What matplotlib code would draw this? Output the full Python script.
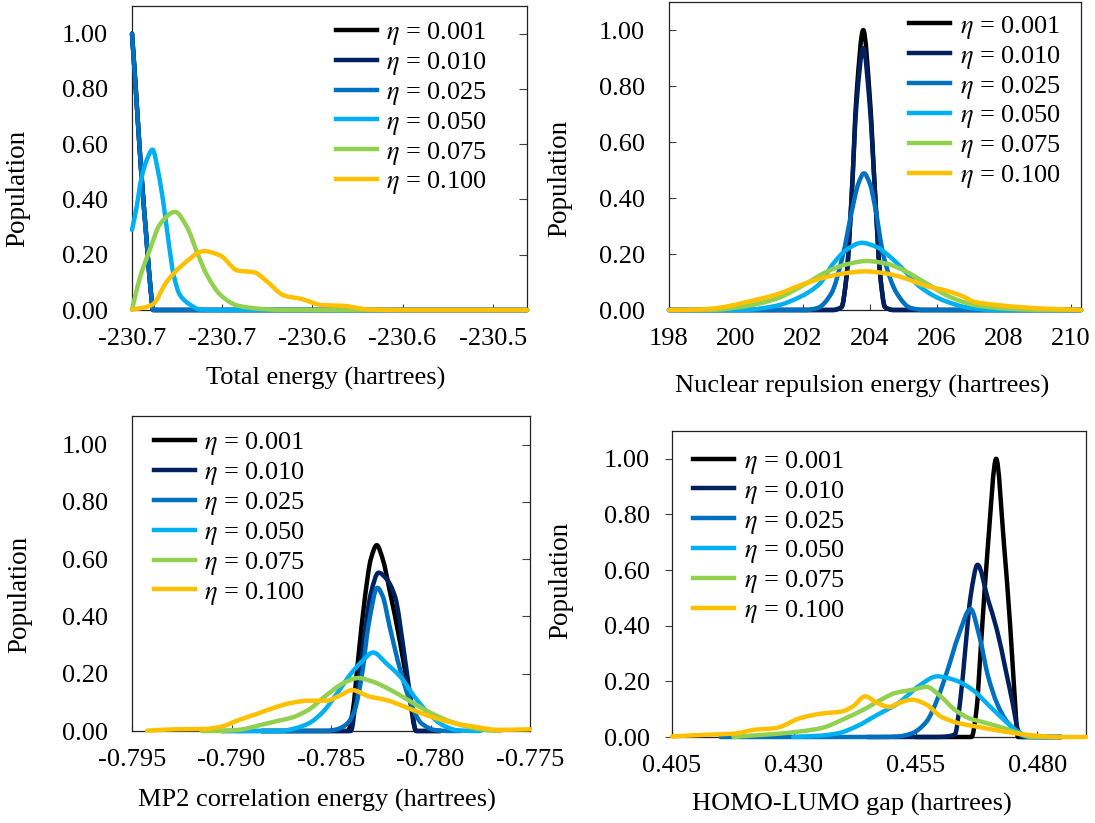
import numpy as np
import matplotlib
matplotlib.use("Agg")
import matplotlib.pyplot as plt
from matplotlib.path import Path
from matplotlib.patches import PathPatch
from matplotlib.lines import Line2D
from matplotlib.ticker import FixedLocator, FormatStrFormatter

plt.rcParams['font.family'] = ['Liberation Serif', 'DejaVu Serif']
plt.rcParams['mathtext.fontset'] = 'stix'

# ---------------- data ----------------
eta_labels = ['0.001', '0.010', '0.025', '0.050', '0.075', '0.100']
colors = ['#000000', '#002060', '#0070C0', '#00B0F0', '#92D050', '#FFC000']

# Panel 1: total energy (hartrees)
te_x_001 = [-230.7400, -230.7380, -230.7350, -230.7320, -230.72975, -230.72825, -230.7200, -230.5210]
te_y_001 = [1.00, 0.81, 0.51, 0.26, 0.08, 0.00, 0.00, 0.00]
te_x_010 = [-230.7400, -230.7380, -230.7350, -230.7320, -230.72975, -230.72825, -230.7200, -230.5210]
te_y_010 = [1.00, 0.81, 0.51, 0.26, 0.08, 0.00, 0.00, 0.00]
te_x_025 = [-230.7400, -230.7380, -230.7350, -230.7320, -230.72975, -230.72825, -230.7200, -230.5210]
te_y_025 = [1.00, 0.81, 0.51, 0.26, 0.08, 0.00, 0.00, 0.00]
te_x_050 = [-230.7400, -230.7375, -230.7350, -230.7320, -230.7286, -230.7255, -230.72265, -230.7200,
            -230.7170, -230.7135, -230.7075, -230.7025, -230.6950, -230.5210]
te_y_050 = [0.29, 0.37, 0.47, 0.54, 0.58, 0.50, 0.39, 0.26, 0.13, 0.055, 0.018, 0.002, 0.0, 0.0]
te_x_075 = [-230.7400, -230.7357, -230.7300, -230.7245, -230.7161, -230.7095, -230.7040, -230.6985,
            -230.6910, -230.6815, -230.6685, -230.6550, -230.5210]
te_y_075 = [0.0, 0.115, 0.22, 0.31, 0.355, 0.30, 0.21, 0.127, 0.055, 0.016, 0.004, 0.0, 0.0]
te_x_100 = [-230.7400, -230.7340, -230.7285, -230.7210, -230.7125, -230.7000, -230.6910, -230.6815,
            -230.6720, -230.6660, -230.6555, -230.6460, -230.6350, -230.6225, -230.6090, -230.5900,
            -230.5210]
te_y_100 = [0.002, 0.008, 0.02, 0.10, 0.16, 0.213, 0.197, 0.143, 0.136, 0.108, 0.052, 0.04, 0.018,
            0.015, 0.002, 0.0, 0.0]

# Panel 2: nuclear repulsion energy (hartrees)
nr_x_001 = [198.0, 202.9, 203.15, 203.3, 203.45, 203.6, 203.8, 204.0, 204.15, 204.3, 204.45, 204.7, 210.3]
nr_y_001 = [0.0, 0.0, 0.01, 0.12, 0.40, 0.77, 1.00, 0.75, 0.42, 0.13, 0.01, 0.0, 0.0]
nr_x_010 = [198.0, 202.9, 203.15, 203.3, 203.45, 203.6, 203.8, 204.0, 204.15, 204.3, 204.45, 204.7, 210.3]
nr_y_010 = [0.0, 0.0, 0.01, 0.12, 0.40, 0.74, 0.935, 0.72, 0.42, 0.13, 0.01, 0.0, 0.0]
nr_x_025 = [198.0, 202.1, 202.45, 202.85, 203.18, 203.47, 203.65, 203.82, 204.0, 204.15, 204.41,
            204.8, 205.2, 205.6, 210.3]
nr_y_025 = [0.0, 0.0, 0.008, 0.06, 0.19, 0.36, 0.45, 0.488, 0.45, 0.37, 0.19, 0.06, 0.008, 0.0, 0.0]
nr_x_050 = [198.0, 200.2, 201.2, 201.9, 202.5, 202.9, 203.3, 203.75, 204.2, 204.6, 204.95, 205.5,
            206.2, 207.0, 207.7, 210.3]
nr_y_050 = [0.0, 0.0, 0.015, 0.046, 0.094, 0.165, 0.215, 0.24, 0.225, 0.19, 0.15, 0.082, 0.034,
            0.007, 0.0, 0.0]
nr_x_075 = [198.0, 199.2, 200.2, 201.2, 202.0, 202.7, 203.3, 203.9, 204.5, 204.95, 205.7, 206.4,
            207.2, 208.2, 209.2, 210.3]
nr_y_075 = [0.0, 0.0, 0.012, 0.04, 0.088, 0.136, 0.163, 0.175, 0.165, 0.145, 0.094, 0.046, 0.016,
            0.004, 0.0, 0.0]
nr_x_100 = [198.0, 198.6, 199.2, 199.7, 200.3, 201.2, 202.0, 202.7, 203.3, 203.85, 204.4, 204.95,
            205.7, 206.25, 206.75, 207.15, 207.7, 208.5, 209.2, 210.3]
nr_y_100 = [0.0, 0.001, 0.004, 0.012, 0.028, 0.055, 0.092, 0.118, 0.132, 0.138, 0.132, 0.117,
            0.085, 0.07, 0.05, 0.028, 0.019, 0.01, 0.005, 0.0]

# Panel 3: MP2 correlation energy (hartrees)
mp_x_001 = [-0.7885, -0.78415, -0.7839, -0.78364, -0.78329, -0.7830, -0.7827, -0.7824, -0.78205,
            -0.78152, -0.78108, -0.78072, -0.7795]
mp_y_001 = [0.0, 0.0, 0.073, 0.248, 0.469, 0.60, 0.649, 0.60, 0.49, 0.306, 0.13, 0.0, 0.0]
mp_x_010 = [-0.7885, -0.7840, -0.78373, -0.78337, -0.7830, -0.78261, -0.7822, -0.78178, -0.78134,
            -0.78099, -0.78072, -0.7795]
mp_y_010 = [0.0, 0.0, 0.12, 0.306, 0.48, 0.553, 0.53, 0.469, 0.28, 0.108, 0.0, 0.0]
mp_x_025 = [-0.7905, -0.78523, -0.7847, -0.78417, -0.78381, -0.78346, -0.7831, -0.78267, -0.7824,
            -0.78205, -0.78152, -0.78099, -0.78046, -0.77975, -0.77905, -0.7785]
mp_y_025 = [0.0, 0.0, 0.006, 0.027, 0.073, 0.19, 0.376, 0.50, 0.47, 0.364, 0.213, 0.097, 0.027,
            0.003, 0.0, 0.0]
mp_x_050 = [-0.7905, -0.78753, -0.78682, -0.78611, -0.7854, -0.7847, -0.78399, -0.78346, -0.78288,
            -0.78222, -0.78152, -0.78081, -0.7801, -0.7794, -0.77869, -0.7778, -0.7775]
mp_y_050 = [0.0, 0.0, 0.009, 0.027, 0.067, 0.131, 0.201, 0.242, 0.274, 0.236, 0.19, 0.12, 0.062,
            0.021, 0.003, 0.0, 0.0]
mp_x_075 = [-0.7915, -0.79071, -0.78965, -0.78859, -0.7877, -0.7870, -0.78611, -0.78523, -0.78435,
            -0.78364, -0.78293, -0.78205, -0.78117, -0.78028, -0.7794, -0.77852, -0.77746, -0.77657,
            -0.7765]
mp_y_075 = [0.0, 0.0, 0.004, 0.02, 0.035, 0.046, 0.075, 0.125, 0.168, 0.185, 0.173, 0.145, 0.11,
            0.074, 0.044, 0.022, 0.006, 0.0, 0.0]
mp_x_100 = [-0.79424, -0.79283, -0.79141, -0.79053, -0.78965, -0.78859, -0.7877, -0.7870, -0.78611,
            -0.78523, -0.78452, -0.78394, -0.7831, -0.78222, -0.78134, -0.78046, -0.77957, -0.77869,
            -0.7778, -0.77657, -0.7750]
mp_y_100 = [0.001, 0.006, 0.007, 0.015, 0.038, 0.063, 0.085, 0.098, 0.106, 0.106, 0.125, 0.143,
            0.121, 0.108, 0.086, 0.062, 0.041, 0.026, 0.015, 0.004, 0.006]

# Panel 4: HOMO-LUMO gap (hartrees)
hl_x_001 = [0.455, 0.4665, 0.46752, 0.46846, 0.4699, 0.47156, 0.47314, 0.47444, 0.47531, 0.47602, 0.485]
hl_y_001 = [0.0, 0.0, 0.098, 0.338, 0.697, 1.00, 0.697, 0.398, 0.158, 0.0, 0.0]
hl_x_010 = [0.445, 0.4595, 0.46305, 0.46413, 0.46521, 0.4663, 0.46774, 0.4699, 0.4717, 0.4735,
            0.47494, 0.47602, 0.47675, 0.485]
hl_y_010 = [0.0, 0.0, 0.008, 0.122, 0.314, 0.505, 0.619, 0.493, 0.386, 0.242, 0.122, 0.026, 0.0, 0.0]
hl_x_025 = [0.415, 0.44791, 0.4515, 0.45439, 0.45728, 0.45944, 0.4616, 0.46377, 0.4663, 0.46811,
            0.4699, 0.4717, 0.4735, 0.47531, 0.47747, 0.48035, 0.485]
hl_y_025 = [0.0, 0.0, 0.002, 0.014, 0.056, 0.134, 0.242, 0.362, 0.46, 0.362, 0.218, 0.122, 0.062,
            0.026, 0.002, 0.0, 0.0]
hl_x_050 = [0.42988, 0.43564, 0.43925, 0.44286, 0.44718, 0.4515, 0.4558, 0.4594, 0.4630, 0.46666,
            0.47026, 0.47315, 0.47602, 0.4782, 0.481, 0.485]
hl_y_050 = [0.0, 0.005, 0.014, 0.038, 0.08, 0.122, 0.185, 0.218, 0.205, 0.17, 0.11, 0.062, 0.02,
            0.002, 0.0, 0.0]
hl_x_075 = [0.41762, 0.42122, 0.42627, 0.43132, 0.43564, 0.44069, 0.4443, 0.44791, 0.4508, 0.45439,
            0.45728, 0.46016, 0.46305, 0.46594, 0.46955, 0.47315, 0.47602, 0.47891, 0.485]
hl_y_075 = [0.0, 0.005, 0.011, 0.02, 0.032, 0.068, 0.098, 0.134, 0.158, 0.17, 0.18, 0.146, 0.098,
            0.068, 0.05, 0.032, 0.014, 0.0, 0.0]
hl_x_100 = [0.405, 0.41185, 0.41762, 0.42195, 0.42627, 0.43132, 0.43564, 0.43997, 0.44214, 0.44466,
            0.44718, 0.4497, 0.4515, 0.45439, 0.45728, 0.46016, 0.46377, 0.46738, 0.4717, 0.47531,
            0.47964, 0.484, 0.490]
hl_y_100 = [0.002, 0.008, 0.012, 0.026, 0.032, 0.068, 0.084, 0.092, 0.11, 0.146, 0.122, 0.108,
            0.122, 0.134, 0.116, 0.074, 0.05, 0.038, 0.024, 0.014, 0.005, 0.0, 0.0]

# axis ticks
te_ticks = [-230.74, -230.69, -230.64, -230.59, -230.54]
nr_ticks = [198, 200, 202, 204, 206, 208, 210]
mp_ticks = [-0.795, -0.790, -0.785, -0.780, -0.775]
hl_ticks = [0.405, 0.430, 0.455, 0.480]
y_ticks = [0.0, 0.2, 0.4, 0.6, 0.8, 1.0]

# ---------------- helpers ----------------
def smooth_path(x, y):
    """Smoothed line through the points (cubic Bezier segments, like a spreadsheet 'smoothed line')."""
    x = np.asarray(x, float)
    y = np.asarray(y, float)
    n = len(x)
    h = np.diff(x)
    d = np.diff(y) / h
    m = np.zeros(n)
    m[0] = d[0]
    m[-1] = d[-1]
    for k in range(1, n - 1):
        if d[k - 1] * d[k] <= 0:
            m[k] = 0.0
        else:
            w1 = 2 * h[k] + h[k - 1]
            w2 = h[k] + 2 * h[k - 1]
            m[k] = (w1 + w2) / (w1 / d[k - 1] + w2 / d[k])
    verts = [(x[0], y[0])]
    codes = [Path.MOVETO]
    for i in range(n - 1):
        c1 = (x[i] + h[i] / 3, max(0.0, y[i] + m[i] * h[i] / 3))
        c2 = (x[i + 1] - h[i] / 3, max(0.0, y[i + 1] - m[i + 1] * h[i] / 3))
        verts += [c1, c2, (x[i + 1], y[i + 1])]
        codes += [Path.CURVE4] * 3
    return Path(verts, codes)


LW = 3.2
FS = 19
W, H = 1095, 823
fig = plt.figure(figsize=(W / 100, H / 100), dpi=100)


def px_axes(left, right, top, bottom):
    return fig.add_axes([left / W, 1 - bottom / H, (right - left) / W, (bottom - top) / H])


panels = [
    dict(box=(132, 527, 6, 310), xlim=(-230.74, -230.521), ticks=te_ticks, fmt='%.1f',
         series=[(te_x_001, te_y_001), (te_x_010, te_y_010), (te_x_025, te_y_025),
                 (te_x_050, te_y_050), (te_x_075, te_y_075), (te_x_100, te_y_100)],
         xlabel='Total energy (hartrees)', xl=(0.49, -0.224), yl=(-0.288, 0.40),
         ytick='right', leg=(0.516, 0.954)),
    dict(box=(669, 1081, 2, 310), xlim=(198, 210.3), ticks=nr_ticks, fmt='%d',
         series=[(nr_x_001, nr_y_001), (nr_x_010, nr_y_010), (nr_x_025, nr_y_025),
                 (nr_x_050, nr_y_050), (nr_x_075, nr_y_075), (nr_x_100, nr_y_100)],
         xlabel='Nuclear repulsion energy (hartrees)', xl=(0.468, -0.249), yl=(-0.266, 0.428),
         ytick='left_in', leg=(0.583, 0.962)),
    dict(box=(132, 530, 416, 731), xlim=(-0.795, -0.775), ticks=mp_ticks, fmt='%.3f',
         series=[(mp_x_001, mp_y_001), (mp_x_010, mp_y_010), (mp_x_025, mp_y_025),
                 (mp_x_050, mp_y_050), (mp_x_075, mp_y_075), (mp_x_100, mp_y_100)],
         xlabel='MP2 correlation energy (hartrees)', xl=(0.464, -0.219), yl=(-0.283, 0.432),
         ytick='right', leg=(0.055, 0.955)),
    dict(box=(672, 1086, 431, 737), xlim=(0.405, 0.490), ticks=hl_ticks, fmt='%.3f',
         series=[(hl_x_001, hl_y_001), (hl_x_010, hl_y_010), (hl_x_025, hl_y_025),
                 (hl_x_050, hl_y_050), (hl_x_075, hl_y_075), (hl_x_100, hl_y_100)],
         xlabel='HOMO-LUMO gap (hartrees)', xl=(0.434, -0.222), yl=(-0.268, 0.513),
         ytick='left_out', leg=(0.051, 0.942)),
]

for p in panels:
    ax = px_axes(*p['box'])
    ax.set_xlim(*p['xlim'])
    ax.set_ylim(0, 1.1)
    for (xs, ys), c in zip(p['series'], colors):
        patch = PathPatch(smooth_path(xs, ys), facecolor='none', edgecolor=c, lw=LW,
                          capstyle='round', joinstyle='round', clip_on=False, zorder=3)
        ax.add_patch(patch)

    ax.xaxis.set_major_locator(FixedLocator(p['ticks']))
    ax.xaxis.set_major_formatter(FormatStrFormatter(p['fmt']))
    ax.yaxis.set_major_locator(FixedLocator(y_ticks))
    ax.yaxis.set_major_formatter(FormatStrFormatter('%.2f'))

    ax.tick_params(axis='x', direction='in', length=4, width=0.8, color='#404040',
                   labelsize=FS, pad=13, top=False, bottom=True)
    if p['ytick'] == 'right':
        ax.tick_params(axis='y', direction='in', length=5.5, width=0.8, color='#404040',
                       left=False, right=True, labelleft=True, labelright=False,
                       labelsize=FS, pad=17.5)
    elif p['ytick'] == 'left_in':
        ax.tick_params(axis='y', direction='in', length=5.3, width=0.8, color='#404040',
                       left=True, right=False, labelsize=FS, pad=17.5)
    else:
        ax.tick_params(axis='y', direction='out', length=5.3, width=0.8, color='#404040',
                       left=True, right=False, labelsize=FS, pad=10.5)
    for s in ax.spines.values():
        s.set_linewidth(0.9)
        s.set_color('#222222')

    ax.set_xlabel(p['xlabel'], fontsize=FS, va='center', ha='center')
    ax.xaxis.set_label_coords(*p['xl'])
    ax.set_ylabel('Population', fontsize=19.5, va='center', ha='center')
    ax.yaxis.set_label_coords(*p['yl'])

    handles = [Line2D([0], [0], color=c, lw=LW) for c in colors]
    labels = [r'$\eta$ = ' + e for e in eta_labels]
    ax.legend(handles, labels, loc='upper left', bbox_to_anchor=p['leg'], frameon=False,
              fontsize=FS, handlelength=1.55, handletextpad=0.36, labelspacing=0.11,
              borderpad=0, borderaxespad=0)

fig.savefig('out.png', dpi=100)
